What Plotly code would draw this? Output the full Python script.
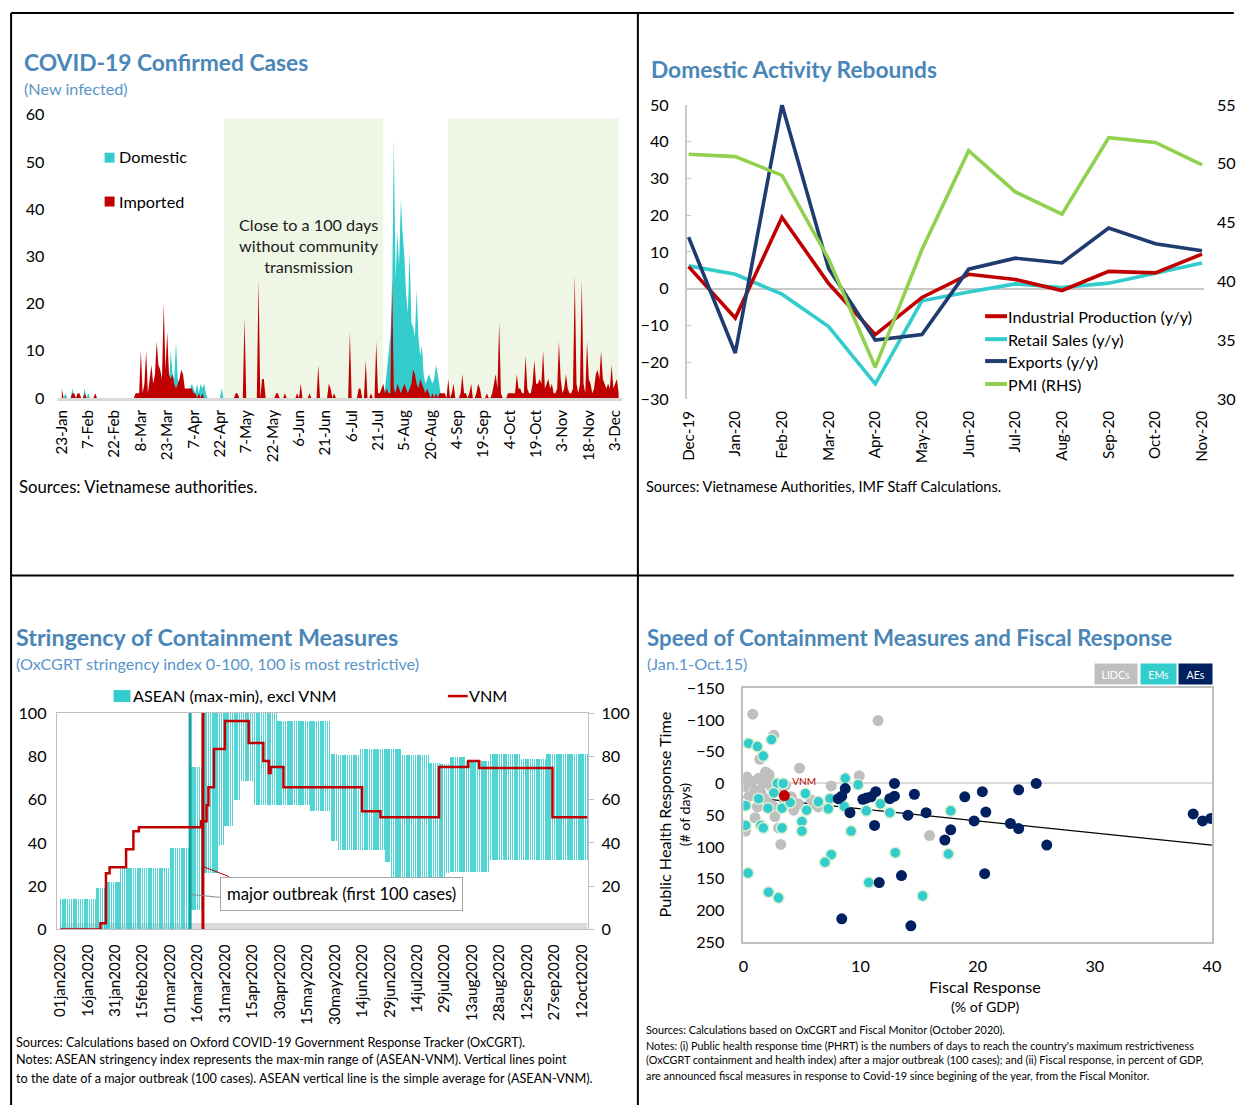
import numpy as np
import pandas as pd
import plotly.graph_objects as go

W, H = 1236, 1105
# the page is photographed inside an 8px frame and scaled back to 1236x1105;
# positions below are given in final picture pixels and mapped back here
SX, SY = W / (W + 16), H / (H + 16)
OX, OY = 8 * SX, 8 * SY
K = 1 / SX

FONT = "Lato"
TITLE_C = "#4a86b8"
SUB_C = "#5a95c8"
TEAL = "#33cccc"
RED = "#c00000"
NAVY = "#1f3c70"
GREEN = "#92d050"


def fx(px):
    return (px - OX) / SX / W


def fy(py):
    return 1 - (py - OY) / SY / H


def fs(size):
    return round(size * K, 2)


# ---------------- Panel 1: COVID-19 confirmed cases (daily) ----------------
p1_tick_dates = ["2020-01-23", "2020-02-07", "2020-02-22", "2020-03-08", "2020-03-23", "2020-04-07",
                 "2020-04-22", "2020-05-07", "2020-05-22", "2020-06-06", "2020-06-21", "2020-07-06",
                 "2020-07-21", "2020-08-05", "2020-08-20", "2020-09-04", "2020-09-19", "2020-10-04",
                 "2020-10-19", "2020-11-03", "2020-11-18", "2020-12-03"]
p1_tick_labels = ["23-Jan", "7-Feb", "22-Feb", "8-Mar", "23-Mar", "7-Apr", "22-Apr", "7-May", "22-May",
                  "6-Jun", "21-Jun", "6-Jul", "21-Jul", "5-Aug", "20-Aug", "4-Sep", "19-Sep", "4-Oct",
                  "19-Oct", "3-Nov", "18-Nov", "3-Dec"]

imp_jan = [2, 0, 0, 0, 0, 0, 1, 1, 0]                      # from 23 Jan
imp_feb = [1, 1, 0, 0, 1, 0, 0, 0, 0, 0, 1, 0, 0, 0, 0, 0, 0, 0, 0, 0, 0, 0, 0, 0, 0, 0, 0, 0, 0]
imp_mar = [0, 0, 0, 0, 1, 1, 1, 10, 1, 3, 10, 1, 4, 7, 3, 5, 12, 7, 6, 4, 20, 6, 14, 5, 4, 5, 3, 2, 3, 4, 6]
imp_apr = [5, 2, 2, 2, 2, 2, 1, 1, 0, 1, 0, 1, 0, 0, 0, 0, 0, 0, 0, 0, 0, 0, 0, 0, 0, 0, 0, 0, 0, 0]
imp_may = [1, 1, 0, 0, 0, 17, 0, 0, 0, 0, 0, 0, 0, 25, 0, 4, 4, 0, 0, 0, 0, 0, 0, 1, 1, 0, 0, 0, 1, 0, 0]
imp_jun = [0, 0, 0, 0, 1, 0, 3, 0, 0, 0, 0, 1, 0, 0, 0, 0, 7, 0, 0, 0, 0, 0, 3, 2, 0, 1, 0, 0, 0, 0]
imp_jul = [0, 0, 0, 0, 14, 0, 0, 0, 0, 2, 2, 0, 0, 8, 0, 0, 1, 0, 0, 12, 1, 1, 2, 3, 1, 2, 1, 1, 25, 2, 1]
imp_aug = [3, 2, 1, 2, 3, 2, 1, 2, 3, 6, 5, 3, 2, 4, 3, 2, 1, 2, 1, 0, 1, 0, 1, 0, 1, 1, 1, 1, 0, 4, 0]
imp_sep = [1, 3, 0, 0, 0, 1, 5, 1, 1, 0, 1, 3, 0, 0, 1, 3, 2, 0, 0, 0, 1, 0, 0, 1, 3, 5, 2, 16, 1, 0]
imp_oct = [0, 0, 1, 1, 1, 1, 1, 5, 2, 2, 1, 1, 9, 2, 1, 1, 3, 8, 3, 3, 4, 3, 10, 2, 3, 4, 2, 3, 1, 1, 2]
imp_nov = [12, 4, 1, 2, 5, 2, 1, 1, 2, 26, 3, 1, 3, 25, 3, 1, 12, 4, 3, 1, 2, 5, 6, 4, 10, 4, 3, 2, 3, 2]
imp_dec = [7, 2, 3, 4, 1]

dom_jan = [0, 0, 1, 0, 0, 0, 2, 0, 0]                      # from 23 Jan
dom_feb = [0, 0, 0, 0, 2, 0, 1, 0, 0]
dom_mar = [0, 0, 0, 0, 0, 0, 0, 0, 0, 0, 0, 0, 0, 0, 0, 0, 0, 0, 0, 0, 0, 0, 0, 3, 10, 5, 4, 12, 4, 3, 5]
dom_apr = [3, 1, 0, 0, 2, 3, 2, 1, 3, 1, 3, 2, 3, 1, 0, 0, 0, 0, 0, 0, 0, 0, 2, 0, 0, 0, 0, 0, 0, 0]
dom_jul = [0, 0, 0, 0, 0, 0, 0, 0, 0, 0, 0, 0, 0, 0, 0, 0, 0, 0, 0, 0, 0, 0, 0, 0, 2, 6, 10, 13, 20, 55, 25]
dom_aug = [35, 28, 42, 35, 30, 22, 18, 31, 16, 15, 13, 23, 13, 9, 11, 5, 3, 4, 5, 4, 3, 4, 7, 5, 2, 0, 0, 0, 0, 0, 0]

green_start = ["2020-04-24 12:00", "2020-08-30"]
green_end = ["2020-07-24", "2020-12-05"]

p1_days = pd.date_range("2020-01-23", "2020-12-05", freq="D")


def daily(parts):
    s = pd.Series(0.0, index=p1_days)
    for start, vals in parts:
        idx = pd.date_range(start, periods=len(vals), freq="D")
        s.loc[idx] = vals
    return s


imported = daily([("2020-01-23", imp_jan), ("2020-02-01", imp_feb), ("2020-03-01", imp_mar),
                  ("2020-04-01", imp_apr), ("2020-05-01", imp_may), ("2020-06-01", imp_jun),
                  ("2020-07-01", imp_jul), ("2020-08-01", imp_aug), ("2020-09-01", imp_sep),
                  ("2020-10-01", imp_oct), ("2020-11-01", imp_nov), ("2020-12-01", imp_dec)])
domestic = daily([("2020-01-23", dom_jan), ("2020-02-01", dom_feb), ("2020-03-01", dom_mar),
                  ("2020-04-01", dom_apr), ("2020-07-01", dom_jul), ("2020-08-01", dom_aug)])

# ---------------- Panel 2: Domestic activity ----------------
p2_months = ["Dec-19", "Jan-20", "Feb-20", "Mar-20", "Apr-20", "May-20", "Jun-20", "Jul-20",
             "Aug-20", "Sep-20", "Oct-20", "Nov-20"]
ind_prod = [6.0, -8.0, 19.4, 1.4, -12.5, -2.4, 3.9, 2.5, -0.5, 4.7, 4.3, 9.4]
retail = [6.2, 3.9, -1.5, -10.3, -25.9, -3.3, -0.9, 1.3, 0.3, 1.5, 4.2, 7.0]
exports = [14.0, -17.5, 50.0, 5.5, -14.0, -12.5, 5.3, 8.3, 7.0, 16.5, 12.2, 10.3]
pmi = [50.8, 50.6, 49.0, 41.9, 32.7, 42.7, 51.1, 47.6, 45.7, 52.2, 51.8, 49.9]

# ---------------- Panel 3: Stringency ----------------
p3_tick_dates = ["2020-01-01", "2020-01-16", "2020-01-31", "2020-02-15", "2020-03-01", "2020-03-16",
                 "2020-03-31", "2020-04-15", "2020-04-30", "2020-05-15", "2020-05-30", "2020-06-14",
                 "2020-06-29", "2020-07-14", "2020-07-29", "2020-08-13", "2020-08-28", "2020-09-12",
                 "2020-09-27", "2020-10-12"]
p3_tick_labels = ["01jan2020", "16jan2020", "31jan2020", "15feb2020", "01mar2020", "16mar2020",
                  "31mar2020", "15apr2020", "30apr2020", "15may2020", "30may2020", "14jun2020",
                  "29jun2020", "14jul2020", "29jul2020", "13aug2020", "28aug2020", "12sep2020",
                  "27sep2020", "12oct2020"]

asean_start = ["2020-01-01", "2020-01-21", "2020-01-26", "2020-02-03", "2020-03-01", "2020-03-13",
               "2020-03-19", "2020-03-28", "2020-03-31", "2020-04-05", "2020-04-09", "2020-04-16",
               "2020-04-29", "2020-05-17", "2020-05-28", "2020-06-01", "2020-06-13", "2020-06-27",
               "2020-06-30", "2020-07-06", "2020-07-21", "2020-07-27", "2020-07-30", "2020-08-01",
               "2020-08-10", "2020-08-23", "2020-09-09", "2020-09-23"]
asean_min = [0, 0, 0, 0, 0, 9, 26, 39, 48, 60, 68.5, 57.5, 57.5, 54.5, 41, 36.6, 36.6, 31, 17, 17, 17,
             11.5, 26, 26.5, 26.5, 32, 32, 32]
asean_max = [14, 19, 22, 28.5, 37.5, 75, 100, 100, 100, 100, 100, 100, 96.5, 96.5, 81, 80.6, 83.5, 83.5,
             83.5, 80.5, 77, 76.5, 76.5, 79.5, 78, 81, 78.8, 81]
asean_end = "2020-10-15"

vnm_start = ["2020-01-01", "2020-01-23", "2020-01-26", "2020-01-28", "2020-02-06", "2020-02-10",
             "2020-02-13", "2020-03-18", "2020-03-21", "2020-03-22", "2020-03-25", "2020-03-31",
             "2020-04-13", "2020-04-21", "2020-04-24", "2020-04-25", "2020-05-02", "2020-06-14",
             "2020-06-24", "2020-07-26", "2020-08-11", "2020-08-17", "2020-09-26"]
vnm_index = [0, 2.78, 25.93, 28.7, 37.04, 45.37, 47.22, 50, 57.41, 65.74, 83.33, 96.3, 86.11, 77.78,
             72.22, 75, 65.74, 54.63, 51.85, 75, 77.78, 74.54, 51.85]

outbreak_asean = "2020-03-12"
outbreak_vnm = "2020-03-19"

p3_days = pd.date_range(asean_start[0], asean_end, freq="D")
seg = np.searchsorted(pd.to_datetime(asean_start).values, p3_days.values, side="right") - 1
a_min = np.array(asean_min, dtype=float)[seg]
a_max = np.array(asean_max, dtype=float)[seg]

# ---------------- Panel 4: Speed of containment vs fiscal response ----------------
lidc_x = [0.8, 2.6, 1.4, 1.9, 4.8, 11.5, 9.9, 7.5, 0.2, 0.7, 1.3, 2.2, 0.1, 1.0, 1.7, 2.4, 3.0, 3.6, 4.1,
          4.7, 4.3, 1.2, 1.0, 2.7, 3.0, 0.2, 3.2, 15.9, 5.8, 6.1, 6.4, 2.2, 1.5, 0.5, 2.0, 3.5, 2.5, 0.3]
lidc_y = [-109, -76, -38, -18, -24, -99, -12, 4, -5, -3, -8, -9, 5, 10, 0, 5, 10, 3, 21,
          32, 42, 37, 54, 52, 70, 75, 96, 82, 26, 32, 37, -14, 15, 20, 25, 28, 35, -10]
em_x = [0.45, 1.2, 1.7, 2.4, 0.2, 0.2, 1.5, 1.7, 3.3, 0.4, 2.15, 3.0, 5.0, 5.0, 5.4, 5.3, 7.4, 7.25, 8.6,
        8.7, 9.8, 9.2, 7.5, 6.97, 10.5, 10.7, 11.7, 12.5, 12.97, 15.3, 17.5, 17.7, 2.9, 3.4, 2.1, 3.3,
        6.4, 1.3, 2.6, 4.0]
em_y = [-63, -58, -43, -69, 35, 66, 66, 70, 70, 141, 171, 180, 60, 75, 42, 16, 24, 40, 36,
        -8, 2, 75, 112, 124, 43, 156, 32, 46, 109, 177, 111, 43, 0, 0, 39, 39,
        29, 24, 15, 30]
ae_x = [8.1, 8.4, 8.7, 9.1, 10.2, 10.5, 10.9, 11.3, 11.2, 11.6, 12.5, 12.9, 12.9, 13.5, 14.05, 14.3,
        14.6, 15.6, 17.2, 17.7, 18.9, 19.7, 8.4, 20.4, 20.7, 23.5, 22.8, 23.5, 25.0, 25.9, 38.4, 39.2,
        39.9, 20.6]
ae_y = [24, 20, 8, 46, 25, 23, 21, 13, 66, 156, 24, 20, 0, 145, 50, 224,
        17, 46, 89, 73, 21, 59, 213, 13, 45, 10, 63, 71, 0, 97, 48, 59,
        55, 142]
vnm_fx = [3.5]
vnm_phrt = [19]
trend_x = [0, 40]
trend_y = [21, 97]

# ---------------- Figure ----------------
fig = go.Figure()

# Panel 1
fig.add_trace(go.Scatter(x=p1_days, y=domestic.values, name="Domestic", mode="lines",
                         line=dict(width=0, color=TEAL), fill="tozeroy", fillcolor=TEAL,
                         xaxis="x", yaxis="y", showlegend=False))
fig.add_trace(go.Scatter(x=p1_days, y=imported.values, name="Imported", mode="lines",
                         line=dict(width=0, color=RED), fill="tozeroy", fillcolor=RED,
                         xaxis="x", yaxis="y", showlegend=False))

# Panel 2
for vals, nm, col in [(retail, "Retail Sales (y/y)", TEAL), (ind_prod, "Industrial Production (y/y)", RED),
                      (exports, "Exports (y/y)", NAVY)]:
    fig.add_trace(go.Scatter(x=list(range(12)), y=vals, name=nm, mode="lines",
                             line=dict(color=col, width=3.6), xaxis="x2", yaxis="y2", showlegend=False))
fig.add_trace(go.Scatter(x=list(range(12)), y=pmi, name="PMI (RHS)", mode="lines",
                         line=dict(color=GREEN, width=3.6), xaxis="x2", yaxis="y3", showlegend=False))

# Panel 3
fig.add_trace(go.Bar(x=p3_days, y=a_max - a_min, base=a_min, name="ASEAN (max-min), excl VNM",
                     marker=dict(color="rgba(51,204,204,0.85)", line=dict(width=0)),
                     width=0.68 * 86400000, xaxis="x3", yaxis="y4", showlegend=False))
fig.add_trace(go.Scatter(x=[outbreak_asean, outbreak_asean], y=[0, 100], mode="lines",
                         line=dict(color="#18a3a3", width=3), xaxis="x3", yaxis="y4", showlegend=False))
fig.add_trace(go.Scatter(x=[outbreak_vnm, outbreak_vnm], y=[0, 100], mode="lines",
                         line=dict(color=RED, width=3), xaxis="x3", yaxis="y4", showlegend=False))
fig.add_trace(go.Scatter(x=vnm_start + [asean_end], y=vnm_index + [vnm_index[-1]], name="VNM",
                         mode="lines", line=dict(color=RED, width=2.5, shape="hv"),
                         xaxis="x3", yaxis="y5", showlegend=False))

# Panel 4
fig.add_trace(go.Scatter(x=trend_x, y=trend_y, mode="lines", line=dict(color="black", width=1.2),
                         xaxis="x4", yaxis="y6", showlegend=False))
fig.add_trace(go.Scatter(x=lidc_x, y=lidc_y, mode="markers", name="LIDCs",
                         marker=dict(color="#bfbfbf", size=11), xaxis="x4", yaxis="y6", showlegend=False))
fig.add_trace(go.Scatter(x=em_x, y=em_y, mode="markers", name="EMs",
                         marker=dict(color=TEAL, size=11, line=dict(color="#dcefcf", width=1.5)),
                         xaxis="x4", yaxis="y6", showlegend=False))
fig.add_trace(go.Scatter(x=ae_x, y=ae_y, mode="markers", name="AEs",
                         marker=dict(color="#002060", size=11), xaxis="x4", yaxis="y6", showlegend=False))
fig.add_trace(go.Scatter(x=vnm_fx, y=vnm_phrt, mode="markers+text", name="VNM", text=["VNM"],
                         textposition="top right", textfont=dict(color=RED, size=fs(10), family=FONT),
                         marker=dict(color=RED, size=11), xaxis="x4", yaxis="y6", showlegend=False))

tick_font = dict(family=FONT, size=fs(16), color="#000000")
tick_font_s = dict(family=FONT, size=fs(15), color="#000000")

fig.update_layout(
    width=W, height=H, margin=dict(l=0, r=0, t=0, b=0),
    paper_bgcolor="white", plot_bgcolor="rgba(0,0,0,0)",
    font=dict(family=FONT, color="#000000"),
    showlegend=False, bargap=0,
    xaxis=dict(domain=[fx(57.6), fx(625.2)], anchor="y", type="date",
               range=["2020-01-20 12:00", "2020-12-07"], tickmode="array",
               tickvals=p1_tick_dates, ticktext=p1_tick_labels, tickangle=-90, showgrid=False,
               zeroline=False, showline=True, linecolor="#d9d9d9", linewidth=3, ticks="",
               tickfont=tick_font_s, ticklabelstandoff=3),
    yaxis=dict(domain=[fy(397), fy(113)], anchor="x", range=[0, 60], dtick=10, showgrid=False,
               zeroline=False, showline=False, tickfont=tick_font, ticklabelstandoff=12),
    xaxis2=dict(domain=[fx(690.1), fx(1209.9)], anchor="y2", range=[-0.04, 11.04], tickmode="array",
                tickvals=list(range(12)), ticktext=p2_months, tickangle=-90, showgrid=False,
                zeroline=False, showline=False, ticks="", tickfont=tick_font_s, ticklabelstandoff=8),
    yaxis2=dict(domain=[fy(398), fy(103)], anchor="x2", range=[-30, 50], dtick=10, showgrid=False,
                zeroline=True, zerolinecolor="#c8c8c8", zerolinewidth=1.5, showline=True,
                linecolor="#c8c8c8", linewidth=1.5, ticks="inside", ticklen=5, tickcolor="#c8c8c8",
                tickfont=tick_font, ticklabelstandoff=13),
    yaxis3=dict(overlaying="y2", side="right", anchor="x2", range=[30, 55], dtick=5, showgrid=False,
                zeroline=False, showline=False, tickfont=tick_font, ticklabelstandoff=12),
    xaxis3=dict(domain=[fx(57), fx(591)], anchor="y4", type="date",
                range=["2019-12-30 04:00", "2020-10-15 12:00"], tickmode="array",
                tickvals=p3_tick_dates, ticktext=p3_tick_labels, tickangle=-90, showgrid=False,
                zeroline=False, showline=True, mirror=True, linecolor="#bfbfbf", linewidth=1,
                ticks="", tickfont=tick_font_s, ticklabelstandoff=8),
    yaxis4=dict(domain=[fy(930), fy(713)], anchor="x3", range=[0, 100], dtick=20, showgrid=False,
                zeroline=False, showline=True, mirror=True, linecolor="#bfbfbf", linewidth=1,
                tickfont=tick_font, ticklabelstandoff=6),
    yaxis5=dict(overlaying="y4", side="right", anchor="x3", range=[0, 100], dtick=20, showgrid=False,
                zeroline=False, showline=False, ticks="outside", ticklen=5, tickcolor="#bfbfbf",
                tickfont=tick_font, ticklabelstandoff=4),
    xaxis4=dict(domain=[fx(747), fx(1218)], anchor="y6", range=[0, 40], dtick=10, showgrid=False,
                zeroline=False, showline=True, mirror=True, linecolor="#bfbfbf", linewidth=1.5,
                ticks="", tickfont=tick_font, ticklabelstandoff=8),
    yaxis6=dict(domain=[fy(943), fy(688)], anchor="x4", range=[250, -150], dtick=50, showgrid=False,
                zeroline=True, zerolinecolor="#d9d9d9", zerolinewidth=2, showline=True, mirror=True,
                linecolor="#bfbfbf", linewidth=1.5, ticks="", tickfont=tick_font, ticklabelstandoff=14),
)

shapes = []
# green shaded periods (panel 1)
for s0, s1 in zip(green_start, green_end):
    shapes.append(dict(type="rect", xref="x", yref="y", x0=s0, x1=s1, y0=0, y1=59.2,
                       fillcolor="#eff6e5", line=dict(width=0), layer="below"))
# gray strip at bottom (panel 3)
shapes.append(dict(type="rect", xref="x3", yref="y4", x0=asean_start[0], x1=asean_end, y0=0, y1=3,
                   fillcolor="rgba(190,190,190,0.55)", line=dict(width=0), layer="below"))


def pline(x0, y0, x1, y1, color="black", width=2):
    return dict(type="line", xref="paper", yref="paper", x0=fx(x0), y0=fy(y0), x1=fx(x1), y1=fy(y1),
                line=dict(color=color, width=width))


def prect(x0, y0, x1, y1, color):
    return dict(type="rect", xref="paper", yref="paper", x0=fx(x0), y0=fy(y1), x1=fx(x1), y1=fy(y0),
                fillcolor=color, line=dict(width=0))


# panel borders
shapes += [pline(11, 11, 1240, 11), pline(11, 11, 11, 1110), pline(641, 11, 641, 1110),
           pline(11, 575, 1240, 575)]
# legend symbols
shapes += [prect(105, 151, 115, 161, TEAL), prect(105, 195, 115, 205, RED)]
for yy, col in [(315, RED), (338, TEAL), (360, NAVY), (383, GREEN)]:
    shapes.append(pline(990, yy, 1012, yy, col, 4))
shapes += [prect(114, 690, 131, 702, TEAL), pline(450, 696, 470, 696, RED, 2.5)]
# leader lines for annotation box (panel 3)
shapes += [pline(204, 867, 230, 877, RED, 1), pline(192, 895, 222, 898, "#8c8c8c", 1)]

fig.update_layout(shapes=shapes)

anns = []


def ann(x, y, text, size, color="#000000", xanchor="left", yanchor="middle", angle=0, **kw):
    anns.append(dict(x=fx(x), y=fy(y), xref="paper", yref="paper", text=text, showarrow=False,
                     xanchor=xanchor, yanchor=yanchor, textangle=angle,
                     font=dict(family=FONT, size=fs(size), color=color), **kw))


# titles
ann(22, 61, "<b>COVID-19 Confirmed Cases</b>", 22.5, TITLE_C)
ann(22, 87, "(New infected)", 16, SUB_C)
ann(652, 68, "<b>Domestic Activity Rebounds</b>", 22.4, TITLE_C)
ann(14, 637, "<b>Stringency of Containment Measures</b>", 23, TITLE_C)
ann(14, 663, "(OxCGRT stringency index 0-100, 100 is most restrictive)", 16, SUB_C)
ann(648, 637, "<b>Speed of Containment Measures and Fiscal Response</b>", 22, TITLE_C)
ann(648, 663, "(Jan.1-Oct.15)", 16, SUB_C)

# panel 1 legend / notes
ann(117, 155, "Domestic", 16)
ann(117, 200, "Imported", 16)
ann(310, 244, "Close to a 100 days<br>without community<br>transmission", 16, "#1a1a1a",
    xanchor="center")
ann(17, 486, "Sources: Vietnamese authorities.", 16.5)

# panel 2 legend / notes
for yy, t in [(315, "Industrial Production (y/y)"), (338, "Retail Sales (y/y)"), (360, "Exports (y/y)"),
              (383, "PMI (RHS)")]:
    ann(1011, yy, t, 16)
ann(647, 486, "Sources: Vietnamese Authorities, IMF Staff Calculations.", 14.3)

# panel 3 legend / notes
ann(132, 695, "ASEAN (max-min), excl VNM", 16)
ann(469, 695, "VNM", 16)
anns.append(dict(x=fx(343), y=fy(895), xref="paper", yref="paper", text="major outbreak (first 100 cases)",
                 showarrow=False, xanchor="center", yanchor="middle", bgcolor="white",
                 bordercolor="#a6a6a6", borderwidth=1, borderpad=6,
                 font=dict(family=FONT, size=fs(16.5), color="#000000")))
ann(14, 1043, "Sources: Calculations based on Oxford COVID-19 Government Response Tracker (OxCGRT).", 12.5)
ann(14, 1061, "Notes: ASEAN stringency index represents the max-min range of (ASEAN-VNM). Vertical lines point", 12.5)
ann(14, 1080, "to the date of a major outbreak (100 cases). ASEAN vertical line is the simple average for (ASEAN-VNM).", 12.5)

# panel 4 legend boxes, axis titles and notes
for cx, w, t, col in [(1121.5, 39, "LIDCs", "#bfbfbf"), (1164.5, 33, "EMs", TEAL), (1201, 31, "AEs", "#002060")]:
    anns.append(dict(x=fx(cx), y=fy(674), xref="paper", yref="paper", text=t, showarrow=False,
                     xanchor="center", yanchor="middle", width=w * K, height=18 * K, bgcolor=col,
                     font=dict(family=FONT, size=fs(10.5), color="white")))
ann(668, 815, "Public Health Response Time", 16, xanchor="center", angle=-90)
ann(688, 815, "(# of days)", 14, xanchor="center", angle=-90)
ann(990, 987, "Fiscal Response", 16, xanchor="center")
ann(990, 1007, "(% of GDP)", 14, xanchor="center")
ann(647, 1030, "Sources: Calculations based on OxCGRT and Fiscal Monitor (October 2020).", 10.7)
ann(647, 1046, "Notes: (i) Public health response time (PHRT) is the numbers of days to reach the country's maximum restrictiveness", 10.7)
ann(647, 1061, "(OxCGRT containment and health index) after a major outbreak (100 cases); and (ii) Fiscal response, in percent of GDP,", 10.7)
ann(647, 1077, "are announced fiscal measures in response to Covid-19 since begining of the year, from the Fiscal Monitor.", 10.7)

fig.update_layout(annotations=anns)

fig.write_html("out.html", config={"displayModeBar": False},
               post_script="document.body.style.margin='0px';document.body.style.padding='0px';"
                           "document.documentElement.style.overflow='hidden';")
